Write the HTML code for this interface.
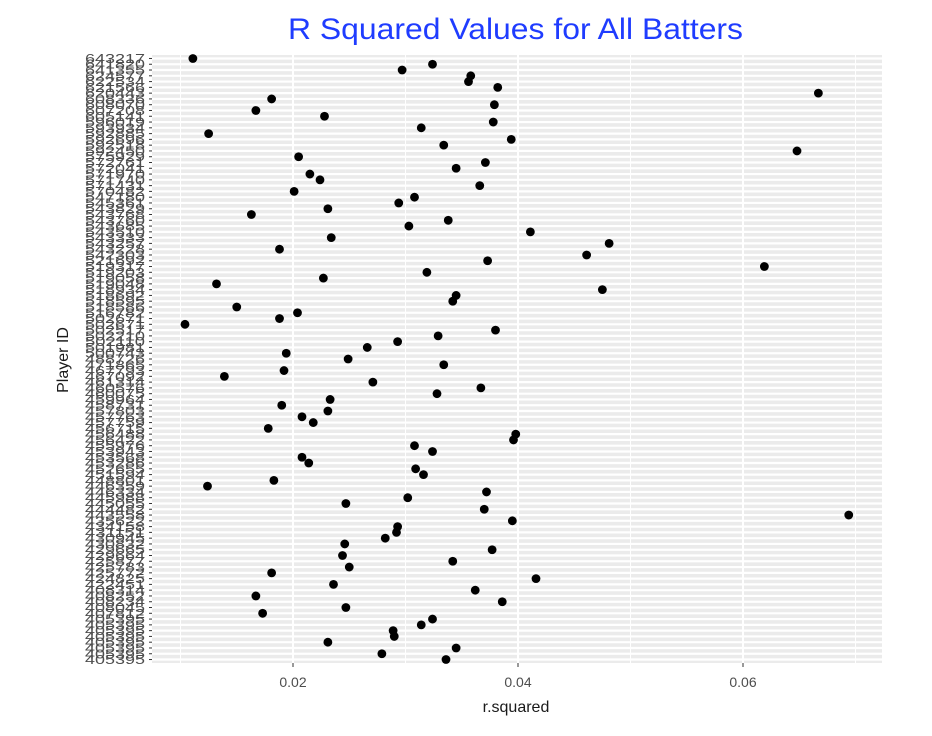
<!DOCTYPE html>
<html><head><meta charset="utf-8"><style>
html,body{margin:0;padding:0;background:#fff;}
svg{display:block;font-family:"Liberation Sans",Arial,sans-serif;}
</style></head><body>
<svg id="chart" width="932" height="736" viewBox="0 0 932 736">
<text x="288" y="39" font-size="30" fill="#1f3cff" textLength="455" lengthAdjust="spacingAndGlyphs">R Squared Values for All Batters</text>
<rect x="152" y="55" width="730" height="608" fill="#ebebeb"/>
<g id="grid"></g><g id="ylabels"></g><g id="xlabels"></g><g id="points"></g>
<text x="516" y="712" font-size="16" fill="#1a1a1a" text-anchor="middle">r.squared</text>
<text x="0" y="0" font-size="16" fill="#1a1a1a" text-anchor="middle" transform="translate(68,360) rotate(-90)">Player ID</text>
</svg>
<script>
const values = [.0111,.0324,.0297,.0358,.0356,.0382,.0667,.0181,.0379,.0167,.0228,.0378,.0314,.0125,.0394,.0334,.0648,.0205,.0371,.0345,.0215,.0224,.0366,.0201,.0308,.0294,.0231,.0163,.0338,.0303,.0411,.0234,.0481,.0188,.0461,.0373,.0619,.0319,.0227,.0132,.0475,.0345,.0342,.0150,.0204,.0188,.0104,.0380,.0329,.0293,.0266,.0194,.0249,.0334,.0192,.0139,.0271,.0367,.0328,.0233,.0190,.0231,.0208,.0218,.0178,.0398,.0396,.0308,.0324,.0208,.0214,.0309,.0316,.0183,.0124,.0372,.0302,.0247,.0370,.0694,.0395,.0293,.0292,.0282,.0246,.0377,.0244,.0342,.0250,.0181,.0416,.0236,.0362,.0167,.0386,.0247,.0173,.0324,.0314,.0289,.0290,.0231,.0345,.0279,.0336];
const idLabels = ["643217","641820","641355","624577","622534","621566","620443","608336","608070","607208","605141","596019","593934","592885","592696","592518","592450","575929","572761","572041","571970","571740","571431","570482","547180","545361","543829","543768","543760","543685","543510","543333","543257","543228","542303","521692","519317","519203","519058","519048","518934","518692","518595","518586","516782","502671","502671","502517","502210","502110","501981","500743","488726","471865","467793","467092","461314","460576","460075","459964","458731","457803","457763","457759","456715","456488","456422","455976","453943","453568","453286","452655","451594","448801","446359","446334","445988","445055","444482","443558","435622","434158","431151","430945","430832","429665","429664","425877","425783","425772","424825","422451","408314","408252","408234","408045","407812","405395","405395","405395","405395","405395","405395","405395","405395"];
const xTicks = [0.02, 0.04, 0.06];
const xTickLabels = ["0.02","0.04","0.06"];
const xMinor = [0.01, 0.03, 0.05, 0.07];
const NS='http://www.w3.org/2000/svg';
const L=152,R=882,T=55,B=663;
const n=values.length;
const x=v=>293+(v-0.02)*11250;
const y=i=>{const lvl=n-i;const u=(B-T)/(n-1+1.2);return B-(lvl-1+0.6)*u;};
function mk(tag,attrs,parent){const e=document.createElementNS(NS,tag);for(const k in attrs)e.setAttribute(k,attrs[k]);parent.appendChild(e);return e;}
const grid=document.getElementById('grid'),yl=document.getElementById('ylabels'),xl=document.getElementById('xlabels'),pts=document.getElementById('points');
for(let i=0;i<n;i++){
 const l=mk('line',{x1:L,x2:R,y1:y(i),y2:y(i),stroke:'#fff','stroke-width':2.2},grid);
 
 
 const t=mk('line',{x1:L-3,x2:L,y1:y(i),y2:y(i),stroke:'#333','stroke-width':1},yl);
 
 
 const lab=mk('text',{x:145,y:y(i)+4.5,'font-size':13,fill:'#4d4d4d','text-anchor':'end',textLength:60,lengthAdjust:'spacingAndGlyphs'},yl);
 lab.textContent=idLabels[i]||'';
 
 
}
xMinor.forEach(v=>{const l=mk('line',{x1:x(v),x2:x(v),y1:T,y2:B,stroke:'#fff','stroke-width':1},grid);
 
 });
xTicks.forEach((v,k)=>{
 const l=mk('line',{x1:x(v),x2:x(v),y1:T,y2:B,stroke:'#fff','stroke-width':2},grid);
 
 
 const t=mk('line',{x1:x(v),x2:x(v),y1:B,y2:B+4,stroke:'#333','stroke-width':1},xl);
 
 
 const lab=mk('text',{x:x(v),y:B+24,'font-size':14,fill:'#4d4d4d','text-anchor':'middle'},xl);
 lab.textContent=xTickLabels[k];
 
 
});
values.forEach((v,i)=>{
 const c=mk('circle',{cx:x(v),cy:y(i),r:4.4,fill:'#000'},pts);
 
 
});
</script>
</body></html>
